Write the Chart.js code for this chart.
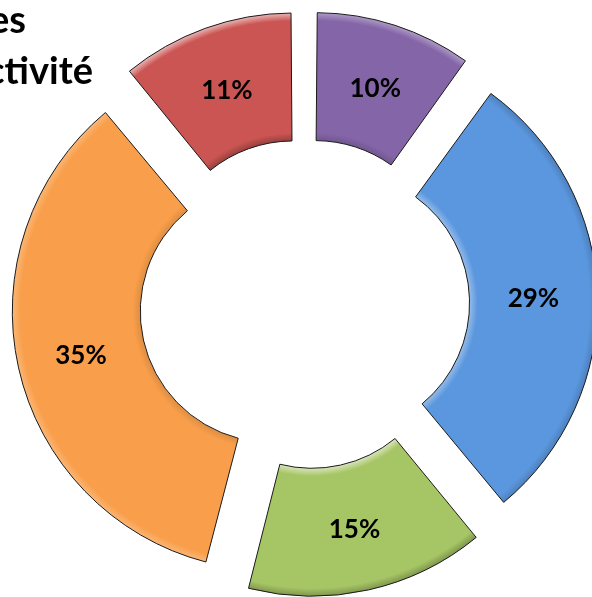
<!doctype html>
<html>
<head>
<title>Répartition par activité</title>
<script src="https://cdn.jsdelivr.net/npm/chart.js@4.4.1/dist/chart.umd.min.js"></script>
<style>
	html, body { margin: 0; padding: 0; background: #fff; overflow: hidden; }
	#wrap { position: relative; width: 592px; height: 597px; }
</style>
</head>
<body>
<div id="wrap"><canvas id="canvas"></canvas></div>
<script>
	// data, clockwise from 12 o'clock
	var categories = ['Activité 1', 'Activité 2', 'Activité 3', 'Activité 4', 'Activité 5'];
	var shares = [10, 29, 15, 35, 11];
	var titleLines = ['Répartition des', "par secteur d'activité"];

	var colours = ['#8466a8', '#5b97de', '#a6c565', '#f99f4b', '#cb5553'];
	var explode = 136; // chart.js shifts a slice by offset / 4

	function shift() { return explode / 4; }

	function mix(hex, target, k) {
		var n = parseInt(hex.slice(1), 16);
		var rgb = [(n >> 16) & 255, (n >> 8) & 255, n & 255];
		var out = rgb.map(function(v) { return Math.round(v + (target - v) * k); });
		return 'rgb(' + out.join(',') + ')';
	}

	// bevel-ish shading: edges facing the top-left light are lighter
	function shade(base, dot) {
		return dot > 0 ? mix(base, 255, 0.6 * dot) : mix(base, 0, -0.26 * dot);
	}

	// chart.js grows small arcs when offset is set; keep all radii equal,
	// then give every slice a radial "bevel" fill.
	// the arc is drawn after a translate, so the gradient sits on arc.x/arc.y
	var bevel = {
		id: 'bevel',
		beforeDatasetsDraw: function(chart) {
			var ctx = chart.ctx;
			var meta = chart.getDatasetMeta(0);
			var ctrl = meta.controller;
			var R = ctrl.outerRadius, r = ctrl.innerRadius;
			meta.data.forEach(function(arc, i) {
				var grow = shift() * (1 - Math.sin(Math.min(Math.PI, arc.circumference)));
				arc.outerRadius = R - grow;
				arc.innerRadius = r - grow;
				var h = (arc.startAngle + arc.endAngle) / 2;
				var base = colours[i];
				var dot = Math.cos(h) * -0.6 + Math.sin(h) * -0.8;
				var g = ctx.createRadialGradient(arc.x, arc.y, 0, arc.x, arc.y, R);
				g.addColorStop(0, shade(base, -dot));
				g.addColorStop(r / R, shade(base, -dot));
				g.addColorStop((r + 8) / R, base);
				g.addColorStop((R - 8) / R, base);
				g.addColorStop(1, shade(base, dot));
				arc.options = Object.assign({}, arc.options, { backgroundColor: g });
			});
		}
	};

	var sliceLabels = {
		id: 'sliceLabels',
		afterDatasetsDraw: function(chart) {
			var ctx = chart.ctx;
			var meta = chart.getDatasetMeta(0);
			var ctrl = meta.controller;
			ctx.save();
			ctx.font = 'bold 26px Lato';
			ctx.fillStyle = '#000';
			ctx.textAlign = 'center';
			ctx.textBaseline = 'middle';
			meta.data.forEach(function(arc, i) {
				var h = (arc.startAngle + arc.endAngle) / 2;
				var d = (ctrl.outerRadius + ctrl.innerRadius) / 2 + shift();
				ctx.fillText(shares[i] + '%', arc.x + Math.cos(h) * d, arc.y + Math.sin(h) * d + 2);
			});
			ctx.restore();
		}
	};

	// title sits partly off the left edge
	var sideTitle = {
		id: 'sideTitle',
		afterDraw: function(chart) {
			var ctx = chart.ctx;
			ctx.save();
			ctx.font = 'bold 38px Lato';
			ctx.fillStyle = '#000';
			ctx.textAlign = 'right';
			ctx.textBaseline = 'alphabetic';
			ctx.fillText(titleLines[0], 26, 33);
			ctx.fillText(titleLines[1], 93, 84);
			ctx.restore();
		}
	};

	var config = {
		type: 'doughnut',
		data: {
			labels: categories,
			datasets: [{
				data: shares,
				backgroundColor: colours,
				borderColor: '#1a1a1a',
				borderWidth: 1,
				offset: explode,
				hoverOffset: explode
			}]
		},
		options: {
			responsive: false,
			animation: false,
			events: [],
			radius: 259,
			cutout: '50.6%',
			layout: { padding: { left: 17, top: 11 } },
			plugins: {
				legend: { display: false },
				tooltip: { enabled: false }
			}
		},
		plugins: [bevel, sliceLabels, sideTitle]
	};

	window.onload = function() {
		var canvas = document.getElementById('canvas');
		canvas.width = 592;
		canvas.height = 597;
		canvas.style.width = '592px';
		canvas.style.height = '597px';
		window.myDoughnut = new Chart(canvas.getContext('2d'), config);
	};
</script>
</body>
</html>
